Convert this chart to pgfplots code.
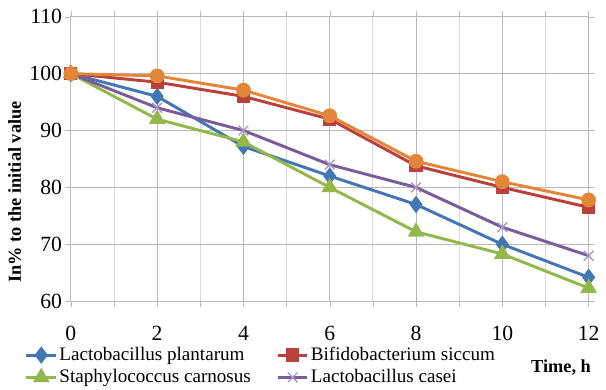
\documentclass[border=0pt]{standalone}
\usepackage{pgfplots}
\pgfplotsset{compat=1.18}
\usepackage{fontspec}
\setmainfont{Liberation Serif}

\definecolor{cBlue}{RGB}{66,118,180}
\definecolor{cRed}{RGB}{186,64,60}
\definecolor{cGreen}{RGB}{146,184,76}
\definecolor{cPurple}{RGB}{122,92,156}
\definecolor{cPurpleMark}{RGB}{170,150,200}
\definecolor{cOrange}{RGB}{228,134,58}

\begin{document}
\begin{tikzpicture}
\begin{axis}[
  at={(0,0)}, anchor=south west,
  scale only axis,
  width=263pt, height=144.5pt,
  xmin=0, xmax=12, ymin=60, ymax=110,
  xtick={0,2,...,12}, minor x tick num=1,
  ytick={60,70,...,110},
  grid=both,
  major grid style={draw=gray!55, line width=0.5pt},
  minor grid style={draw=gray!30, line width=0.5pt},
  axis line style={draw=gray!55},
  tick style={draw=gray!55},
  tick align=outside, major tick length=3pt, minor tick length=3pt,
  xticklabel style={yshift=-6pt},
  yticklabel style={xshift=2pt},
  tick label style={font=\fontsize{11}{13}\selectfont},
  /pgf/number format/assume math mode=true,
  legend style={at={(-23.5pt,-21pt)}, anchor=north west, draw=none, fill=none,
    font=\fontsize{9.7}{11}\selectfont, row sep=-1pt,
    nodes={inner xsep=1pt},
    /tikz/every even column/.append style={column sep=12pt},
    inner sep=0pt},
  legend columns=2,
  legend cell align=left,
  legend image code/.code={%
    \draw[mark repeat=2,mark phase=2]
      plot coordinates {(0pt,0pt) (7.5pt,0pt) (15pt,0pt)};},
  clip=false,
]
\addplot[cBlue, line width=1.5pt, mark=diamond*, mark size=3.2pt]
  coordinates {(0,100) (2,96) (4,87.2) (6,82) (8,77) (10,70) (12,64.2)};
\addlegendentry{Lactobacillus plantarum}
\addplot[cRed, line width=1.5pt, mark=square*, mark size=2.6pt]
  coordinates {(0,100) (2,98.5) (4,96) (6,92) (8,83.8) (10,80) (12,76.5)};
\addlegendentry{Bifidobacterium siccum}
\addplot[cGreen, line width=1.5pt, mark=triangle*, mark size=3.4pt]
  coordinates {(0,100) (2,92) (4,88) (6,80) (8,72.2) (10,68.3) (12,62.3)};
\addlegendentry{Staphylococcus carnosus}
\addplot[cPurple, line width=1.5pt, mark=x, mark size=3.5pt,
  mark options={draw=cPurpleMark, line width=0.7pt}]
  coordinates {(0,100) (2,94) (4,90) (6,84) (8,80) (10,73) (12,68)};
\addlegendentry{Lactobacillus casei}
\addplot[cOrange, line width=1.5pt, mark=*, mark size=3pt, forget plot]
  coordinates {(0,100) (2,99.6) (4,97.1) (6,92.6) (8,84.6) (10,81) (12,77.8)};
\end{axis}
\node[rotate=90, font=\bfseries\fontsize{9.3}{11}\selectfont] at (-28.5pt,55.5pt) {In\% to the initial value};
\node[font=\bfseries\fontsize{9.3}{11}\selectfont] at (249pt,-33.5pt) {Time, h};
\path[use as bounding box] (-36pt,-39.5pt) rectangle (267pt,153pt);
\end{tikzpicture}
\end{document}
